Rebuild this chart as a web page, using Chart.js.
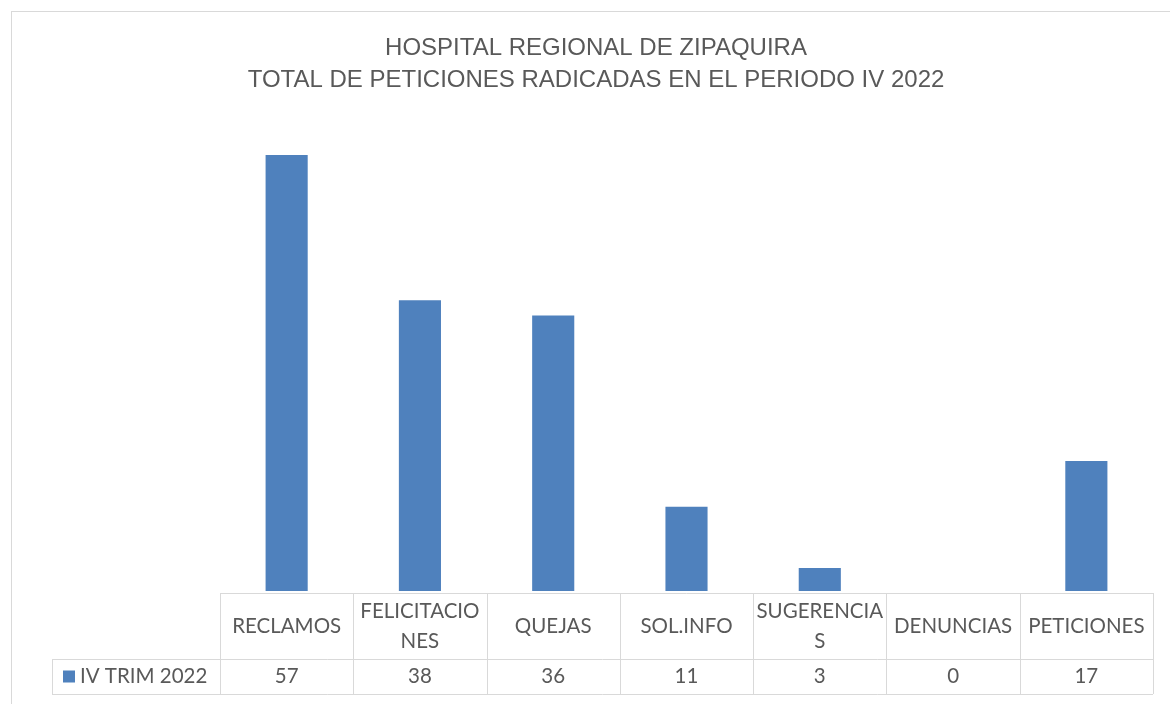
<!DOCTYPE html>
<html>
<head>
<meta charset="utf-8">
<script src="https://cdn.jsdelivr.net/npm/chart.js@4/dist/chart.umd.min.js"></script>
<style>
  body { margin: 0; background: #fff; }
</style>
</head>
<body>
<canvas id="grafico" width="1170" height="704"></canvas>
<script>
const categorias = [['RECLAMOS'], ['FELICITACIO', 'NES'], ['QUEJAS'], ['SOL.INFO'], ['SUGERENCIA', 'S'], ['DENUNCIAS'], ['PETICIONES']];
const serieNombre = 'IV TRIM 2022';
const valores = [57, 38, 36, 11, 3, 0, 17];
const titulo = ['HOSPITAL REGIONAL DE ZIPAQUIRA', 'TOTAL DE PETICIONES RADICADAS EN EL PERIODO IV 2022'];

const azul = '#4F81BD';
const gris = '#d9d9d9';
const texto = '#595959';
const fuenteTabla = '20.5px Lato, "Open Sans", sans-serif';

// marco del grafico
const marco = {
  id: 'marco',
  beforeDraw(chart) {
    const c = chart.ctx;
    c.save();
    c.fillStyle = '#fff';
    c.fillRect(0, 0, chart.width, chart.height);
    c.strokeStyle = gris;
    c.lineWidth = 1;
    c.strokeRect(11.5, 11.5, chart.width + 20, chart.height + 20);
    c.restore();
  }
};

// tabla de datos bajo las barras
const tablaDatos = {
  id: 'tablaDatos',
  afterDraw(chart) {
    const c = chart.ctx;
    const x = chart.scales.x;
    const n = categorias.length;
    const colW = x.getPixelForValue(1) - x.getPixelForValue(0);
    const left = x.getPixelForValue(0) - colW / 2;
    const right = left + colW * n;
    const top = chart.chartArea.bottom + 2;
    const mid = top + 66;
    const bot = mid + 35;
    const leyIzq = 52;

    c.save();
    c.strokeStyle = gris;
    c.lineWidth = 1;
    c.beginPath();
    c.moveTo(left, top + 0.5); c.lineTo(right, top + 0.5);
    c.moveTo(leyIzq, mid + 0.5); c.lineTo(right, mid + 0.5);
    c.moveTo(leyIzq, bot + 0.5); c.lineTo(right, bot + 0.5);
    for (let i = 0; i <= n; i++) {
      const px = Math.round(left + colW * i) + 0.5;
      c.moveTo(px, top); c.lineTo(px, bot);
    }
    c.moveTo(leyIzq + 0.5, mid); c.lineTo(leyIzq + 0.5, bot);
    c.stroke();

    c.fillStyle = texto;
    c.font = fuenteTabla;
    c.textAlign = 'center';
    c.textBaseline = 'middle';
    categorias.forEach((lineas, i) => {
      const cx = x.getPixelForValue(i);
      const cy = (top + mid) / 2;
      const lh = 30;
      lineas.forEach((l, j) => {
        c.fillText(l, cx, cy + (j - (lineas.length - 1) / 2) * lh);
      });
      c.fillText(String(valores[i]), cx, (mid + bot) / 2);
    });

    c.fillStyle = azul;
    c.fillRect(63, (mid + bot) / 2 - 6, 12, 12);
    c.fillStyle = texto;
    c.textAlign = 'left';
    c.fillText(serieNombre, 80, (mid + bot) / 2);
    c.restore();
  }
};

new Chart(document.getElementById('grafico'), {
  type: 'bar',
  data: {
    labels: categorias,
    datasets: [{
      label: serieNombre,
      data: valores,
      backgroundColor: azul,
      categoryPercentage: 1,
      barPercentage: 0.316
    }]
  },
  options: {
    responsive: false,
    animation: false,
    layout: { padding: { left: 39, right: 17, top: 32, bottom: 113 } },
    scales: {
      x: { display: false },
      y: {
        min: 0,
        max: 60,
        grid: { display: false },
        border: { display: false },
        ticks: { display: false },
        afterFit(scale) { scale.width = 181; }
      }
    },
    plugins: {
      legend: { display: false },
      tooltip: { enabled: false },
      title: {
        display: true,
        text: titulo,
        color: texto,
        font: { family: '"Liberation Sans Narrow", "Liberation Sans", Arial, sans-serif', size: 24, weight: 'normal', lineHeight: 1.333 },
        padding: { top: 0, bottom: 36 }
      }
    }
  },
  plugins: [marco, tablaDatos]
});
</script>
</body>
</html>
